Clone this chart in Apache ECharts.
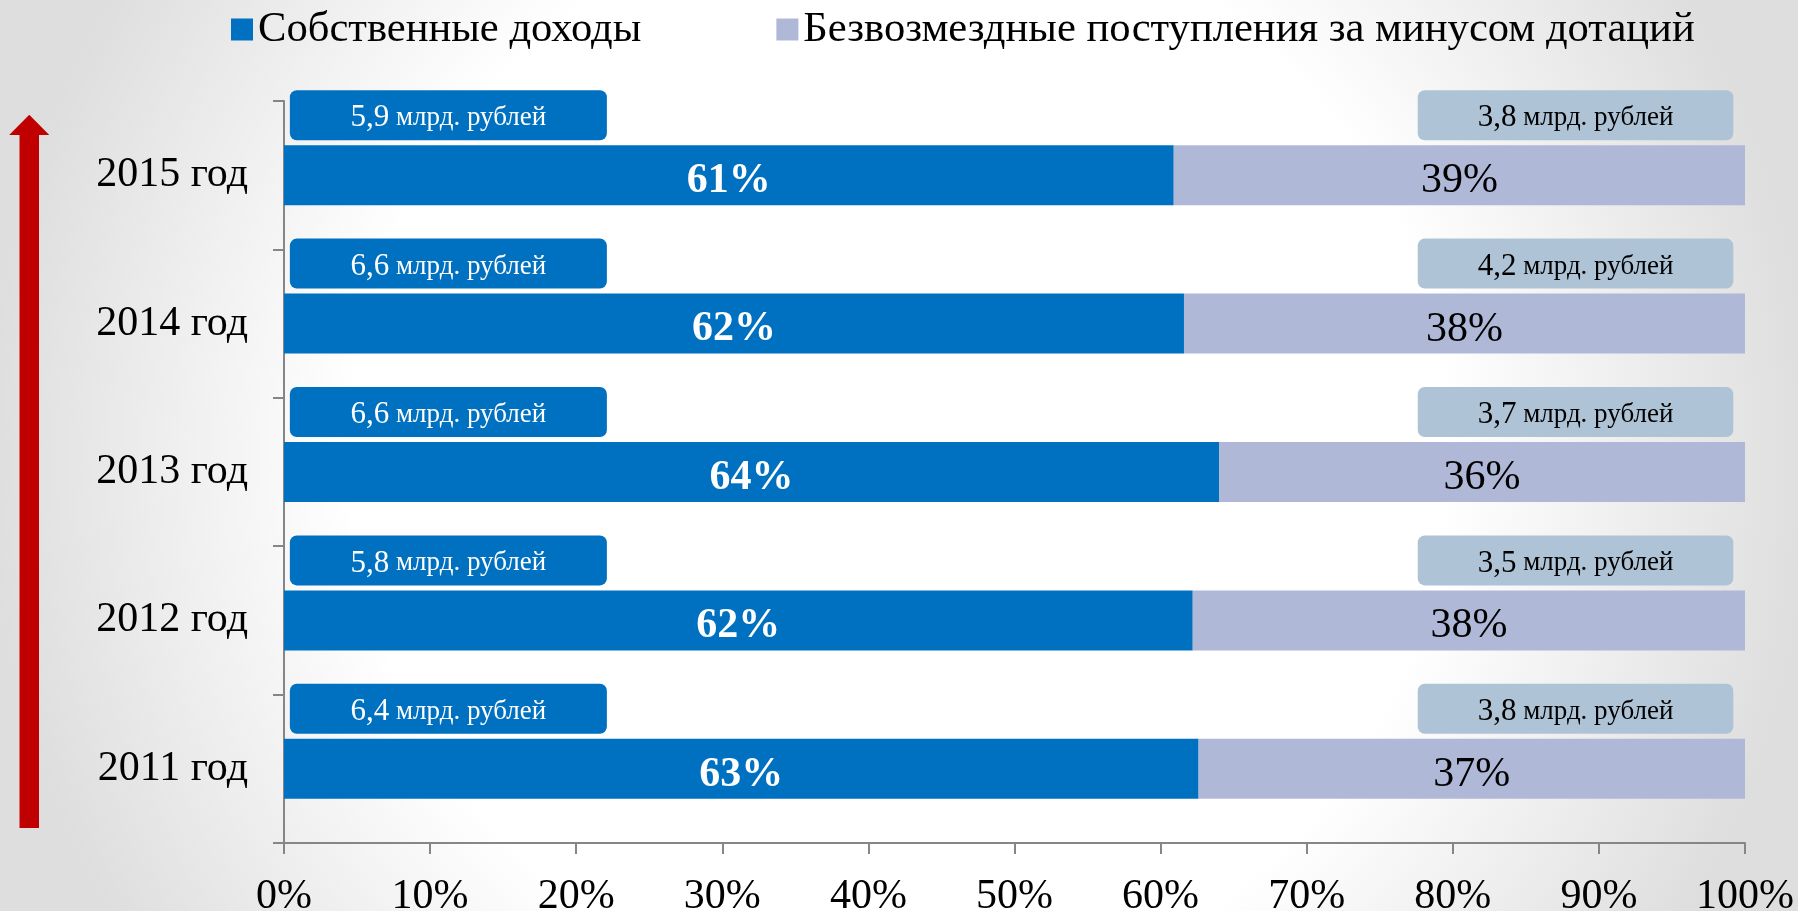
<!DOCTYPE html>
<html>
<head>
<meta charset="utf-8">
<script src="https://cdn.jsdelivr.net/npm/echarts@6/dist/echarts.min.js"></script>
<style>html,body{margin:0;padding:0;}#c{width:1798px;height:911px;}</style>
</head>
<body>
<div id="c"></div>
<script>
const categories = ['2011 год', '2012 год', '2013 год', '2014 год', '2015 год'];
const ownShare = [62.6, 62.2, 64.0, 61.6, 60.9];
const otherShare = [37.4, 37.8, 36.0, 38.4, 39.1];
const ownAmount = [6.4, 5.8, 6.6, 6.6, 5.9];
const otherAmount = [3.8, 3.5, 3.7, 4.2, 3.8];
const seriesNames = ['Собственные доходы', 'Безвозмездные поступления за минусом дотаций'];
const xTicks = [0, 10, 20, 30, 40, 50, 60, 70, 80, 90, 100];

const FONT = '"Liberation Serif", "Times New Roman", serif';
const BLUE = '#0070C0';
const LIGHT = '#B0B8D8';
const BOX_LIGHT = '#AFC3D6';
const BAR_W = 60;

function fmt(v) { return v.toFixed(1).replace('.', ','); }

function boxRenderer(x0, x1, fill, textColor) {
  return function (params, api) {
    const idx = api.value(1);
    const p0 = api.coord([x0, idx]);
    const p1 = api.coord([x1, idx]);
    const cy = p0[1];
    const bottom = cy - BAR_W / 2 - 5;
    const h = 50;
    const top = bottom - h;
    return {
      type: 'group',
      children: [
        { type: 'rect', shape: { x: p0[0], y: top, width: p1[0] - p0[0], height: h, r: 7 },
          style: { fill: fill } },
        { type: 'text',
          style: {
            x: (p0[0] + p1[0]) / 2, y: top + h / 2 + 3,
            align: 'center', verticalAlign: 'middle',
            text: '{a|' + fmt(api.value(0)) + '}{b| млрд. рублей}',
            rich: {
              a: { fontSize: 31, fontFamily: FONT, fill: textColor, color: textColor },
              b: { fontSize: 27, fontFamily: FONT, fill: textColor, color: textColor }
            },
            fill: textColor
          } }
      ]
    };
  };
}

const chart = echarts.init(document.getElementById('c'));
chart.setOption({
  backgroundColor: {
    type: 'radial', x: 0.5, y: 0.5, r: 1.0,
    colorStops: [
      { offset: 0, color: '#ffffff' },
      { offset: 0.6, color: '#ffffff' },
      { offset: 1, color: '#dedede' }
    ]
  },
  animation: false,
  legend: {
    data: seriesNames,
    left: 226, top: 3,
    itemWidth: 22, itemHeight: 22, itemGap: 135,
    icon: 'rect',
    textStyle: { fontFamily: FONT, fontSize: 42.6, color: '#000' }
  },
  grid: { left: 284, right: 53, top: 101, bottom: 68, containLabel: false, outerBoundsMode: 'none' },
  xAxis: {
    type: 'value', min: 0, max: 100, interval: 10,
    axisLine: { show: true, lineStyle: { color: '#868686', width: 2 } },
    axisTick: { show: true, length: 11, lineStyle: { color: '#868686', width: 2 } },
    splitLine: { show: false },
    axisLabel: {
      formatter: function (v) { return xTicks.indexOf(v) >= 0 ? v + '%' : ''; },
      fontFamily: FONT, fontSize: 42, color: '#000', margin: 33
    }
  },
  yAxis: {
    type: 'category', data: categories,
    axisLine: { show: true, lineStyle: { color: '#868686', width: 2 } },
    axisTick: { show: true, length: 11, lineStyle: { color: '#868686', width: 2 } },
    axisLabel: { fontFamily: FONT, fontSize: 42, color: '#000', margin: 36, padding: [14, 0, 0, 0] }
  },
  graphic: [{
    type: 'polygon',
    shape: { points: [[19.5, 828], [39, 828], [39, 135], [49.3, 135], [29.25, 114.7], [9.2, 135], [19.5, 135]] },
    style: { fill: '#C00000' }
  }],
  series: [
    {
      name: seriesNames[0], type: 'bar', stack: 'total', data: ownShare, barWidth: BAR_W,
      itemStyle: { color: BLUE },
      label: { show: true, position: 'inside', offset: [0, 6],
               formatter: function (p) { return Math.round(p.value) + '%'; }, color: '#fff',
               fontFamily: FONT, fontWeight: 'bold', fontSize: 42 }
    },
    {
      name: seriesNames[1], type: 'bar', stack: 'total', data: otherShare, barWidth: BAR_W,
      itemStyle: { color: LIGHT },
      label: { show: true, position: 'inside', offset: [0, 6],
               formatter: function (p) { return Math.round(p.value) + '%'; }, color: '#000',
               fontFamily: FONT, fontSize: 42 }
    },
    {
      type: 'custom', clip: false, silent: true,
      data: ownAmount.map((v, i) => [v, i]),
      encode: { x: 0, y: 1 },
      renderItem: boxRenderer(0.4, 22.1, BLUE, '#fff')
    },
    {
      type: 'custom', clip: false, silent: true,
      data: otherAmount.map((v, i) => [v, i]),
      encode: { x: 0, y: 1 },
      renderItem: boxRenderer(77.6, 99.2, BOX_LIGHT, '#000')
    }
  ]
});
</script>
</body>
</html>
